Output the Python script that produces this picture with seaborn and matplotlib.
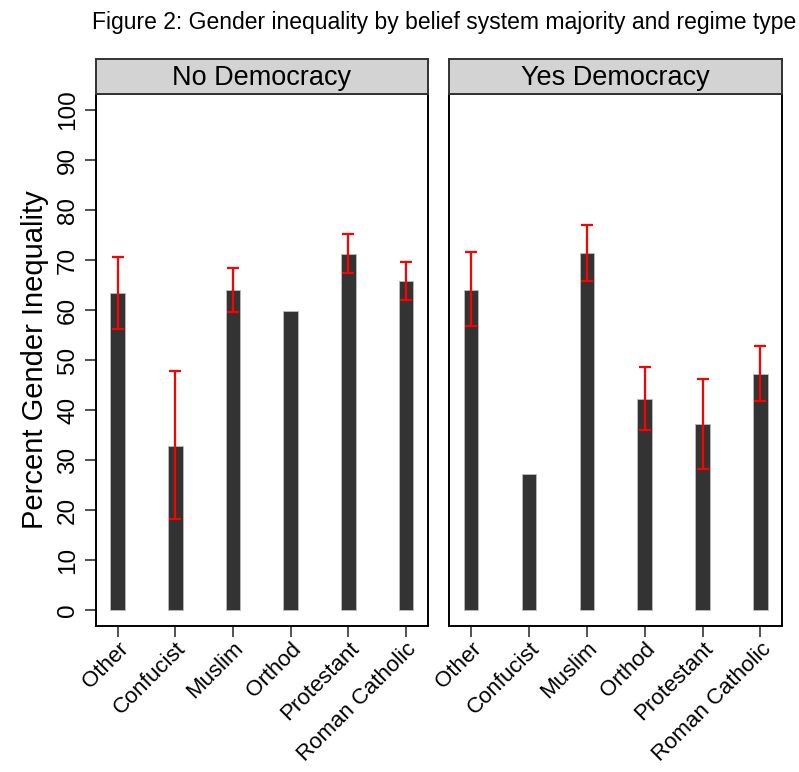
import numpy as np
import pandas as pd
import matplotlib
matplotlib.use("Agg")
import matplotlib.pyplot as plt
import seaborn as sns

# belief system categories and the two regime panels
belief = ["Other", "Confucist", "Muslim", "Orthod", "Protestant", "Roman Catholic"]
panels = ["No Democracy", "Yes Democracy"]

# mean percent gender inequality
no_mean = [63.3, 32.9, 63.9, 59.7, 71.2, 65.7]
no_lo = [56.2, 18.3, 59.5, np.nan, 67.3, 62.0]
no_hi = [70.5, 47.7, 68.3, np.nan, 75.2, 69.5]

yes_mean = [64.0, 27.2, 71.3, 42.2, 37.3, 47.3]
yes_lo = [56.8, np.nan, 65.8, 35.9, 28.3, 41.8]
yes_hi = [71.5, np.nan, 77.0, 48.5, 46.3, 52.8]

sns.set_style("white")
plt.rcParams["font.family"] = ["Liberation Sans", "DejaVu Sans"]
plt.rcParams["text.color"] = "black"
plt.rcParams["xtick.color"] = "black"
plt.rcParams["ytick.color"] = "black"
plt.rcParams["axes.labelcolor"] = "black"

frame = pd.DataFrame({
    "belief": belief * 2,
    "regime": [panels[0]] * 6 + [panels[1]] * 6,
    "mean": no_mean + yes_mean,
    "lo": no_lo + yes_lo,
    "hi": no_hi + yes_hi,
})

fig = plt.figure(figsize=(7.99, 7.72), dpi=100)
lefts = [95.7 / 799, 449.3 / 799]
widths = [332.3 / 799, 333.0 / 799]
bottom = 1 - 625.7 / 772
height = (625.7 - 94.3) / 772
strip_h = 35.3 / 772

for i, reg in enumerate(panels):
    ax = fig.add_axes([lefts[i], bottom, widths[i], height])
    sub = frame[frame["regime"] == reg]
    sns.barplot(data=sub, x="belief", y="mean", order=belief, ax=ax,
                color="#333333", saturation=1, width=0.25,
                edgecolor="#bbbbbb", linewidth=0.6, errorbar=None)
    ok = sub["lo"].notna().values
    xs = np.arange(len(belief))[ok]
    lo = sub["lo"].values[ok]
    hi = sub["hi"].values[ok]
    mid = (lo + hi) / 2
    ax.errorbar(xs, mid, yerr=(hi - lo) / 2, fmt="none", ecolor="red",
                elinewidth=1.6, capsize=4.5, capthick=1.6, zorder=5)

    ax.set_xlim(-0.38, 5.38)
    ax.set_ylim(-3.14, 103.14)
    ax.set_xlabel("")
    ax.set_xticks(range(len(belief)))
    ax.set_xticklabels(belief, rotation=45, ha="right", rotation_mode="anchor",
                       fontsize=16)
    ax.tick_params(axis="x", direction="out", length=8, width=1.2,
                   color="#333333", bottom=True, pad=1)
    for s in ax.spines.values():
        s.set_color("black")
        s.set_linewidth(1.4)
    if i == 0:
        ax.set_yticks(range(0, 101, 10))
        ax.set_yticklabels([str(v) for v in range(0, 101, 10)], rotation=90,
                           va="center", fontsize=17.5)
        ax.tick_params(axis="y", direction="out", length=8, width=1.2,
                       color="#333333", left=True, pad=4)
        ax.set_ylabel("Percent Gender Inequality", fontsize=21, labelpad=6)
    else:
        ax.set_yticks([])
        ax.set_ylabel("")

    strip = fig.add_axes([lefts[i], bottom + height, widths[i], strip_h])
    strip.set_facecolor("#d3d3d3")
    strip.set_xticks([])
    strip.set_yticks([])
    for s in strip.spines.values():
        s.set_color("#333333")
        s.set_linewidth(1.4)
    strip.text(0.5, 0.47, reg, ha="center", va="center", fontsize=19.5,
               transform=strip.transAxes)

fig.text(444.5 / 799, 1 - 22 / 772,
         "Figure 2: Gender inequality by belief system majority and regime type",
         ha="center", va="center", fontsize=16.5)

fig.savefig("out.png", dpi=100)
